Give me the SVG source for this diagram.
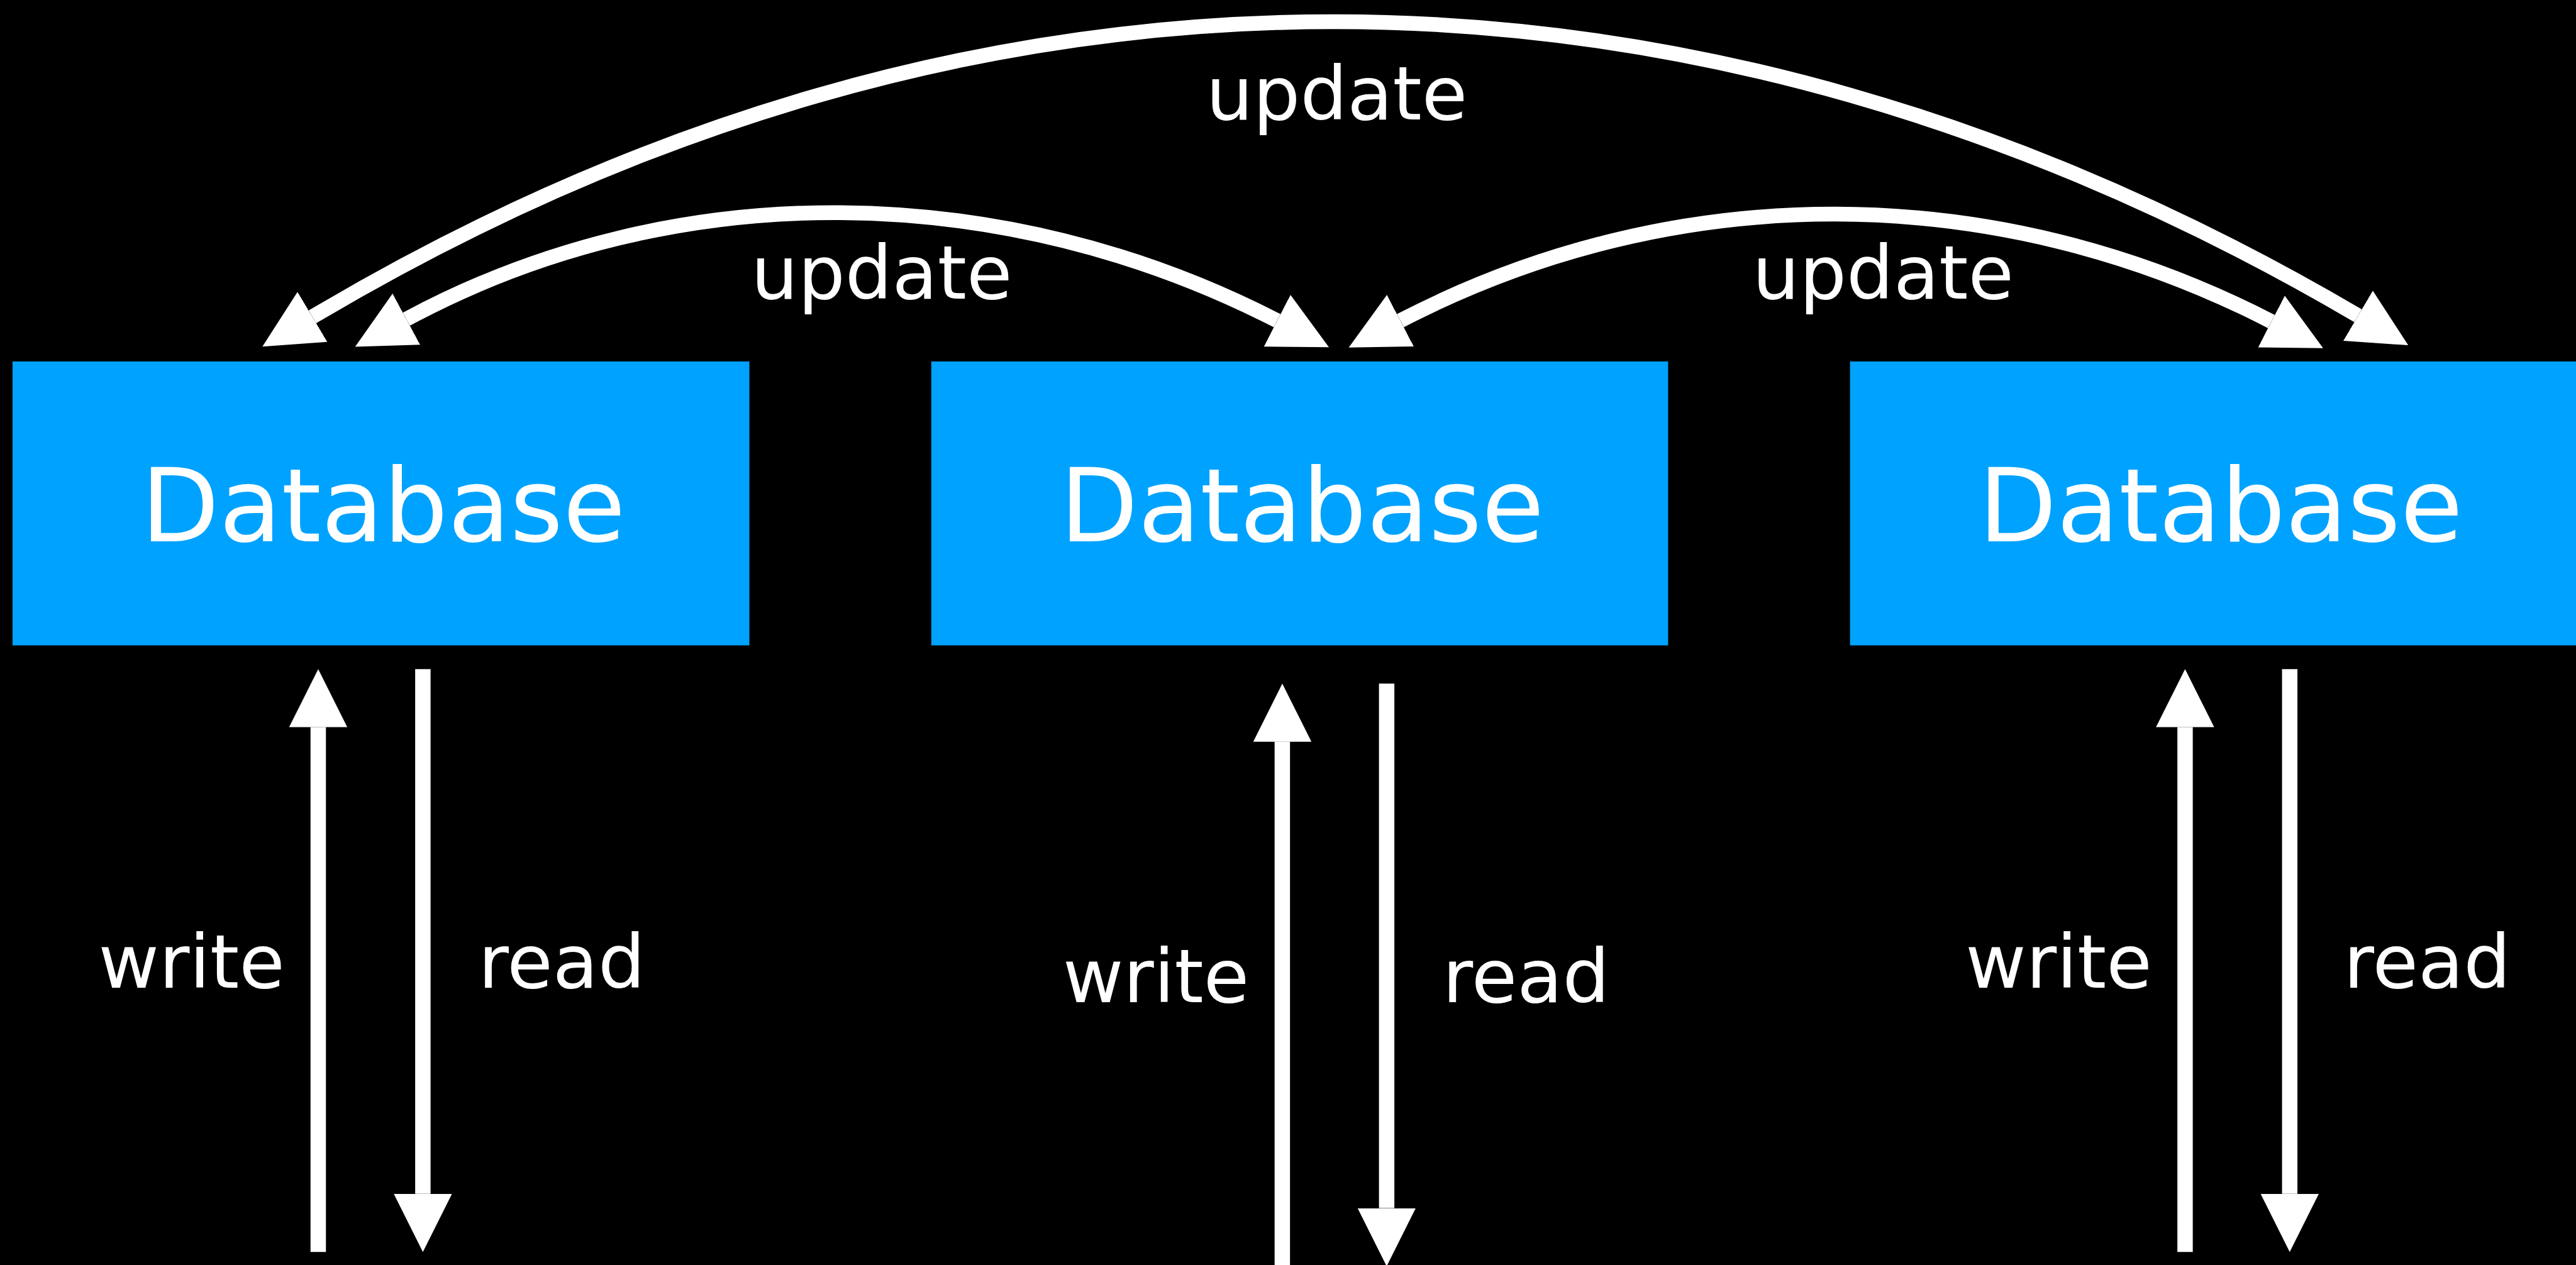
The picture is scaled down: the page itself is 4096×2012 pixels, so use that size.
<svg xmlns="http://www.w3.org/2000/svg" width="4096" height="2012" viewBox="0 0 4096 2012">
  <defs>
    <style>
      .db { fill: #00A2FF; }
      .db-label { font-family: "DejaVu Sans", "Liberation Sans", sans-serif; font-size: 178px; fill: #FFFFFF; text-anchor: middle; }
      .label { font-family: "DejaVu Sans", "Liberation Sans", sans-serif; font-size: 130px; fill: #FFFFFF; text-anchor: middle; }
      .arc { fill: none; stroke: #FFFFFF; stroke-width: 26; }
      .shaft { fill: none; stroke: #FFFFFF; stroke-width: 27; }
    </style>
    <marker id="head" markerUnits="userSpaceOnUse" viewBox="0 0 102 102" markerWidth="102" markerHeight="102" refX="0" refY="51" orient="auto-start-reverse">
      <path d="M0,0 L102,51 L0,102 Z" fill="#FFFFFF"/>
    </marker>
  </defs>

  <rect width="4096" height="2012" fill="#000000"/>

  <g transform="scale(0.9068)">
    <g id="db1">
      <rect class="db" x="22" y="634" width="1292" height="498"/>
      <text class="db-label" x="672" y="950">Database</text>
    </g>
    <g id="db2">
      <rect class="db" x="1633" y="634" width="1292" height="498"/>
      <text class="db-label" x="2283" y="950">Database</text>
    </g>
    <g id="db3">
      <rect class="db" x="3244" y="634" width="1292" height="498"/>
      <text class="db-label" x="3894" y="950">Database</text>
    </g>

    <g id="connectors">
      <!-- replication arcs, double-headed -->
      <path class="arc" d="M547.8,555.8 C1710.5,-135.9 2968,-132.5 4134.8,553.8" marker-start="url(#head)" marker-end="url(#head)"/>
      <path class="arc" d="M712.6,559.8 C1187.5,304.3 1760.3,316.2 2239.5,562.5" marker-start="url(#head)" marker-end="url(#head)"/>
      <path class="arc" d="M2455.5,562.5 C2938,311.7 3499.3,314.3 3982.9,564" marker-start="url(#head)" marker-end="url(#head)"/>

      <!-- client write / read arrows -->
      <path class="shaft" d="M558,2196 L558,1275.5" marker-end="url(#head)"/>
      <path class="shaft" d="M741.5,1173.5 L741.5,2094" marker-end="url(#head)"/>
      <path class="shaft" d="M2248.5,2240 L2248.5,1301" marker-end="url(#head)"/>
      <path class="shaft" d="M2431.5,1199 L2431.5,2119" marker-end="url(#head)"/>
      <path class="shaft" d="M3831.5,2196 L3831.5,1275.5" marker-end="url(#head)"/>
      <path class="shaft" d="M4015,1173.5 L4015,2094" marker-end="url(#head)"/>

      <!-- connector labels -->
      <text class="label" x="2344" y="209">update</text>
      <text class="label" x="1546" y="524">update</text>
      <text class="label" x="3302" y="524">update</text>
      <text class="label" x="336" y="1732">write</text>
      <text class="label" x="985" y="1732">read</text>
      <text class="label" x="2027" y="1758">write</text>
      <text class="label" x="2676" y="1758">read</text>
      <text class="label" x="3610" y="1732">write</text>
      <text class="label" x="4256" y="1732">read</text>
    </g>
  </g>
</svg>
